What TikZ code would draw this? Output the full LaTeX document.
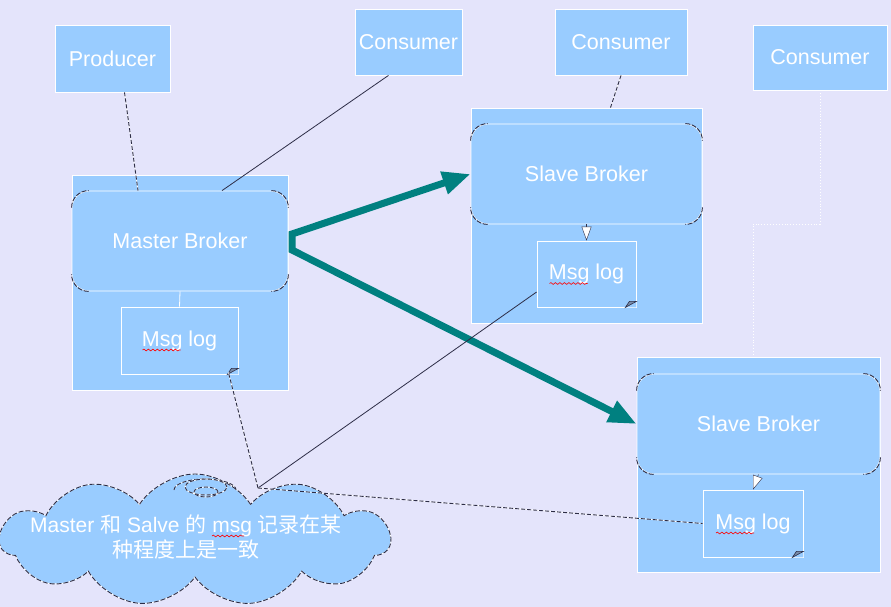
\documentclass[tikz,border=0pt]{standalone}
\usepackage{fontspec}
\setmainfont{Liberation Sans}
\newfontfamily\cjk{Noto Sans CJK SC}
\usetikzlibrary{shapes.symbols,arrows.meta,calc,decorations.pathmorphing}
\definecolor{bgpaper}{RGB}{228,228,251}
\definecolor{boxblue}{RGB}{153,204,255}
\definecolor{linedark}{RGB}{45,45,70}
\definecolor{arrowteal}{RGB}{0,128,128}
\definecolor{foldgray}{RGB}{120,140,170}
\tikzset{
  box/.style={draw=white, line width=0.8pt, fill=boxblue, inner sep=0pt, text=white,
    font=\fontsize{21.5}{25}\selectfont},
  broker/.style={box, rounded corners=17pt},
  dashline/.style={draw=white, line width=0.9pt,
    postaction={draw=linedark, line width=0.9pt, dash pattern=on 4pt off 2pt}},
  thinline/.style={draw=linedark, line width=0.8pt},
  cornerarc/.style={draw=linedark, line width=0.9pt, dash pattern=on 5pt off 1.5pt},
  teal arrow/.style={draw=arrowteal, line width=7pt, line join=miter,
    {Triangle[length=28pt,width=22pt]}-{Triangle[length=28pt,width=22pt]}},
  logarrow/.style={draw=linedark, line width=0.4pt, -{Triangle[length=14pt,width=10pt,fill=white]}},
  spell/.style={draw=red, line width=0.6pt, decorate,
    decoration={snake, amplitude=0.9pt, segment length=4.5pt}},
}
\begin{document}
\begin{tikzpicture}[x=1pt,y=-1pt]
    % background
    \useasboundingbox (0,0) rectangle (891,607);
    \fill[bgpaper] (0,0) rectangle (891,607);

    % producer and consumers
    \node[box, minimum width=115pt, minimum height=67pt] (prod) at (112.5,58.5) {Producer};
    \node[box, minimum width=107pt, minimum height=66pt] (cons1) at (408.5,42) {Consumer};
    \node[box, minimum width=132pt, minimum height=66pt] (cons2) at (621,42) {Consumer};
    \node[box, minimum width=134pt, minimum height=65pt] (cons3) at (820,57.5) {Consumer};

    % master
    \node[box, minimum width=216pt, minimum height=215pt] (mc) at (180,282.5) {};
    \node[broker, minimum width=216pt, minimum height=100pt] (mb) at (180,241) {Master Broker};
    \node[box, minimum width=117pt, minimum height=67pt] (ml) at (179.5,340.5) {Msg log};
    \draw[white, line width=0.8pt] (mb.south) -- (ml.north);

    % slaves
    \node[box, minimum width=231pt, minimum height=215pt] (sc1) at (586.5,215.5) {};
    \node[broker, minimum width=231pt, minimum height=100pt] (sb1) at (586.5,174) {Slave Broker};
    \node[box, minimum width=99pt, minimum height=66pt] (sl1) at (586.5,274) {Msg log};
    \draw[logarrow] (sb1.south) -- (sl1.north);

    \node[box, minimum width=243pt, minimum height=215pt] (sc2) at (758.5,464.5) {};
    \node[broker, minimum width=243pt, minimum height=100pt] (sb2) at (758.5,424) {Slave Broker};
    \node[box, minimum width=100pt, minimum height=67pt] (sl2) at (753,523.5) {Msg log};
    \draw[logarrow] (sb2.south) -- (sl2.north);

    % broker corners
    \foreach \n in {mb,sb1,sb2}{
      \draw[cornerarc] ([yshift=-17pt]\n.north west) arc[start angle=180,end angle=90,radius=17pt];
      \draw[cornerarc] ([xshift=-17pt]\n.north east) arc[start angle=90,end angle=0,radius=17pt];
      \draw[cornerarc] ([yshift=17pt]\n.south east) arc[start angle=0,end angle=-90,radius=17pt];
      \draw[cornerarc] ([xshift=17pt]\n.south west) arc[start angle=270,end angle=180,radius=17pt];
    }

    % folded corners and spelling marks of the logs
    \foreach \n in {ml,sl1,sl2}{
      \fill[boxblue] (\n.south east) -- ++(-11pt,0) -- ++(11pt,6pt) -- cycle;
      \filldraw[fill=foldgray, draw=linedark, line width=0.6pt]
        ([xshift=-11pt]\n.south east) -- ++(4pt,6pt) -- ++(7pt,0) -- cycle;
      \draw[spell] ([shift={(-37pt,-9.5pt)}]\n.center) -- ++(38pt,0);
    }

    % clients to brokers
    \draw[dashline] ([xshift=12pt]prod.south) -- ([xshift=-42pt]mb.north);
    \draw[thinline] ([xshift=-20pt]cons1.south) -- ([xshift=42pt]mb.north);
    \draw[dashline] (cons2.south) -- ($(sc1.north)+(24,0)$);
    \coordinate (turn3) at (753,224);
    \draw[white, dotted, line width=0.9pt] (cons3.south) |- (turn3) -- (turn3 |- sc2.north);

    % replication
    \coordinate (bend1) at (292,234);
    \coordinate (bend2) at (292,250);
    \draw[teal arrow] (sb1.west) -- (bend1) -- (bend2) -- (sb2.west);

    % note cloud
    \node[cloud, cloud puffs=11, cloud puff arc=115, aspect=2.9, draw=white, fill=boxblue,
      minimum width=390pt, minimum height=132pt, line width=0.9pt,
      postaction={draw=linedark, line width=0.9pt, dash pattern=on 5pt off 2pt}] (cloud) at (195,540) {};
    \draw[dashline] (174,490) arc[start angle=180,end angle=0,x radius=31pt,y radius=11pt];
    \draw[dashline] (206,487) ellipse[x radius=21pt,y radius=8pt];
    \draw[dashline] (206,492) ellipse[x radius=12pt,y radius=5pt];
    \node[text=white, align=center, font=\fontsize{21}{25}\selectfont] (cloudtext) at (186,537)
      {Master {\cjk 和} Salve {\cjk 的} msg {\cjk 记录在某}\\{\cjk 种程度上是一致}};
    \draw[spell] ([shift={(26pt,1pt)}]cloudtext.center) -- ++(32pt,0);

    \coordinate (cloudtip) at (258,488);
    \draw[dashline] (cloudtip) -- ([xshift=-10pt,yshift=2pt]ml.south east);
    \draw[thinline] (cloudtip) -- ([yshift=-18pt]sl1.west);
    \draw[dashline] (cloudtip) -- (sl2.west);
\end{tikzpicture}
\end{document}
